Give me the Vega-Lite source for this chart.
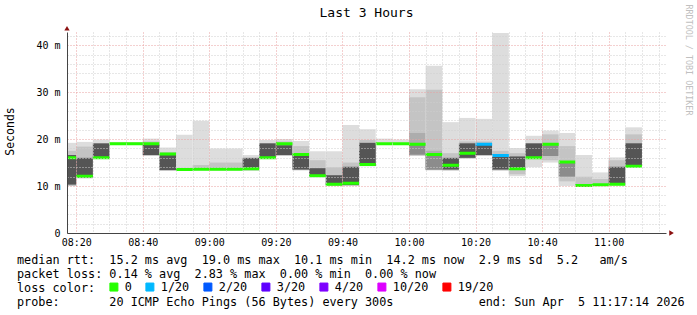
{
  "$schema": "https://vega.github.io/schema/vega-lite/v6.json",
  "width": 599,
  "height": 201,
  "autosize": {"type": "none"},
  "padding": {"left": 67, "top": 32, "right": 31, "bottom": 82},
  "background": "white",
  "config": {"font": "DejaVu Sans Mono", "view": {"stroke": null}},
  "title": {"text": "Last 3 Hours", "fontSize": 13, "fontWeight": "normal", "color": "black", "anchor": "middle", "baseline": "alphabetic", "offset": -25.5},
  "datasets": {
    "smoke": [
      {"s":15,"e":20,"k":1,"lo":10.0,"hi":19.2},{"s":15,"e":20,"k":2,"lo":10.0,"hi":17.5},{"s":15,"e":20,"k":5,"lo":10.3,"hi":16.6},
      {"s":20,"e":25,"k":1,"lo":11.6,"hi":19.4},{"s":20,"e":25,"k":2,"lo":11.7,"hi":18.4},{"s":20,"e":25,"k":5,"lo":11.8,"hi":16.0},
      {"s":25,"e":30,"k":1,"lo":15.8,"hi":19.9},{"s":25,"e":30,"k":5,"lo":15.9,"hi":19.1},
      {"s":30,"e":35,"k":1,"lo":18.9,"hi":19.4},
      {"s":35,"e":40,"k":1,"lo":18.9,"hi":19.4},
      {"s":40,"e":45,"k":1,"lo":16.4,"hi":20.1},{"s":40,"e":45,"k":2,"lo":16.5,"hi":19.5},{"s":40,"e":45,"k":5,"lo":16.6,"hi":18.9},
      {"s":45,"e":50,"k":1,"lo":13.2,"hi":18.2},{"s":45,"e":50,"k":2,"lo":13.3,"hi":17.2},{"s":45,"e":50,"k":5,"lo":13.4,"hi":16.6},
      {"s":50,"e":55,"k":1,"lo":13.3,"hi":20.9},
      {"s":55,"e":60,"k":1,"lo":13.3,"hi":23.9},{"s":55,"e":60,"k":2,"lo":13.4,"hi":14.5},
      {"s":60,"e":65,"k":1,"lo":13.3,"hi":18.0},{"s":60,"e":65,"k":2,"lo":13.4,"hi":15.0},
      {"s":65,"e":70,"k":1,"lo":13.3,"hi":18.0},{"s":65,"e":70,"k":2,"lo":13.4,"hi":15.0},
      {"s":70,"e":75,"k":1,"lo":13.2,"hi":16.6},{"s":70,"e":75,"k":5,"lo":13.6,"hi":16.0},
      {"s":75,"e":80,"k":1,"lo":15.8,"hi":19.8},{"s":75,"e":80,"k":5,"lo":15.9,"hi":19.1},
      {"s":80,"e":85,"k":1,"lo":16.4,"hi":20.0},{"s":80,"e":85,"k":2,"lo":16.5,"hi":19.5},{"s":80,"e":85,"k":5,"lo":16.6,"hi":18.7},
      {"s":85,"e":90,"k":1,"lo":13.3,"hi":19.6},{"s":85,"e":90,"k":2,"lo":13.4,"hi":18.5},{"s":85,"e":90,"k":5,"lo":13.5,"hi":16.5},
      {"s":90,"e":95,"k":1,"lo":12.0,"hi":17.4},{"s":90,"e":95,"k":2,"lo":12.1,"hi":15.5},{"s":90,"e":95,"k":5,"lo":12.2,"hi":13.8},
      {"s":95,"e":100,"k":1,"lo":10.0,"hi":17.4},{"s":95,"e":100,"k":2,"lo":10.1,"hi":14.0},{"s":95,"e":100,"k":5,"lo":10.2,"hi":12.3},
      {"s":100,"e":105,"k":1,"lo":10.0,"hi":23.0},{"s":100,"e":105,"k":2,"lo":10.1,"hi":15.0},{"s":100,"e":105,"k":5,"lo":10.2,"hi":14.1},
      {"s":105,"e":110,"k":1,"lo":14.2,"hi":22.1},{"s":105,"e":110,"k":2,"lo":14.3,"hi":19.8},{"s":105,"e":110,"k":5,"lo":14.3,"hi":19.2},
      {"s":110,"e":115,"k":1,"lo":18.9,"hi":20.1},
      {"s":115,"e":120,"k":1,"lo":18.9,"hi":19.9},
      {"s":120,"e":125,"k":1,"lo":16.4,"hi":30.6},{"s":120,"e":125,"k":2,"lo":16.5,"hi":28.9},{"s":120,"e":125,"k":3,"lo":16.6,"hi":21.3},{"s":120,"e":125,"k":4,"lo":16.7,"hi":18.8},
      {"s":125,"e":130,"k":1,"lo":13.3,"hi":35.6},{"s":125,"e":130,"k":2,"lo":13.4,"hi":30.5},{"s":125,"e":130,"k":3,"lo":13.5,"hi":17.5},{"s":125,"e":130,"k":4,"lo":13.5,"hi":16.7},
      {"s":130,"e":135,"k":1,"lo":13.2,"hi":23.6},{"s":130,"e":135,"k":2,"lo":13.4,"hi":17.0},{"s":130,"e":135,"k":5,"lo":13.5,"hi":16.0},
      {"s":135,"e":140,"k":1,"lo":15.8,"hi":24.5},{"s":135,"e":140,"k":2,"lo":15.9,"hi":19.5},{"s":135,"e":140,"k":5,"lo":16.0,"hi":19.1},
      {"s":140,"e":145,"k":1,"lo":16.4,"hi":24.3},{"s":140,"e":145,"k":2,"lo":16.5,"hi":19.5},{"s":140,"e":145,"k":5,"lo":16.6,"hi":18.8},
      {"s":145,"e":150,"k":1,"lo":13.2,"hi":42.6},{"s":145,"e":150,"k":2,"lo":13.4,"hi":17.5},{"s":145,"e":150,"k":5,"lo":13.5,"hi":16.3},
      {"s":150,"e":155,"k":1,"lo":12.1,"hi":18.1},{"s":150,"e":155,"k":2,"lo":12.5,"hi":17.0},{"s":150,"e":155,"k":5,"lo":13.5,"hi":16.3},
      {"s":155,"e":160,"k":1,"lo":14.0,"hi":20.7},{"s":155,"e":160,"k":5,"lo":16.2,"hi":19.1},
      {"s":160,"e":165,"k":1,"lo":15.0,"hi":21.8},{"s":160,"e":165,"k":2,"lo":15.5,"hi":21.0},{"s":160,"e":165,"k":4,"lo":16.4,"hi":18.7},
      {"s":165,"e":170,"k":1,"lo":10.0,"hi":21.3},{"s":165,"e":170,"k":2,"lo":11.0,"hi":18.5},{"s":165,"e":170,"k":4,"lo":12.0,"hi":15.0},
      {"s":170,"e":175,"k":1,"lo":10.0,"hi":16.6},{"s":170,"e":175,"k":2,"lo":10.1,"hi":12.0},
      {"s":175,"e":180,"k":1,"lo":10.0,"hi":12.9},{"s":175,"e":180,"k":2,"lo":10.1,"hi":11.5},
      {"s":180,"e":185,"k":1,"lo":10.1,"hi":16.1},{"s":180,"e":185,"k":2,"lo":10.2,"hi":15.5},{"s":180,"e":185,"k":5,"lo":10.4,"hi":14.1},
      {"s":185,"e":190,"k":1,"lo":14.2,"hi":22.5},{"s":185,"e":190,"k":2,"lo":14.3,"hi":21.0},{"s":185,"e":190,"k":5,"lo":14.3,"hi":19.1}
    ],
    "median": [
      {"s":15,"e":20,"m":16.0,"loss":"0"},
      {"s":20,"e":25,"m":12.1,"loss":"0"},
      {"s":25,"e":30,"m":16.0,"loss":"0"},
      {"s":30,"e":35,"m":19.0,"loss":"0"},
      {"s":35,"e":40,"m":19.0,"loss":"0"},
      {"s":40,"e":45,"m":19.0,"loss":"0"},
      {"s":45,"e":50,"m":16.8,"loss":"0"},
      {"s":50,"e":55,"m":13.5,"loss":"0"},
      {"s":55,"e":60,"m":13.6,"loss":"0"},
      {"s":60,"e":65,"m":13.6,"loss":"0"},
      {"s":65,"e":70,"m":13.6,"loss":"0"},
      {"s":70,"e":75,"m":13.7,"loss":"0"},
      {"s":75,"e":80,"m":16.0,"loss":"0"},
      {"s":80,"e":85,"m":19.0,"loss":"0"},
      {"s":85,"e":90,"m":16.7,"loss":"0"},
      {"s":90,"e":95,"m":12.2,"loss":"0"},
      {"s":95,"e":100,"m":10.4,"loss":"0"},
      {"s":100,"e":105,"m":10.6,"loss":"0"},
      {"s":105,"e":110,"m":14.6,"loss":"0"},
      {"s":110,"e":115,"m":19.0,"loss":"0"},
      {"s":115,"e":120,"m":19.0,"loss":"0"},
      {"s":120,"e":125,"m":18.9,"loss":"0"},
      {"s":125,"e":130,"m":16.7,"loss":"0"},
      {"s":130,"e":135,"m":14.4,"loss":"0"},
      {"s":135,"e":140,"m":17.0,"loss":"0"},
      {"s":140,"e":145,"m":18.9,"loss":"1/20"},
      {"s":145,"e":150,"m":16.5,"loss":"1/20"},
      {"s":150,"e":155,"m":13.7,"loss":"0"},
      {"s":155,"e":160,"m":16.0,"loss":"0"},
      {"s":160,"e":165,"m":18.9,"loss":"0"},
      {"s":165,"e":170,"m":15.1,"loss":"0"},
      {"s":170,"e":175,"m":10.1,"loss":"0"},
      {"s":175,"e":180,"m":10.3,"loss":"0"},
      {"s":180,"e":185,"m":10.4,"loss":"0"},
      {"s":185,"e":190,"m":14.2,"loss":"0"}
    ],
    "arrows": [
      {"s": 17.233, "e": 17.233, "v": 43.6, "dir": "up"},
      {"s": 198.9, "e": 198.9, "v": 0, "dir": "right"}
    ]
  },
  "encoding": {
    "x": {
      "field": "s", "type": "quantitative",
      "scale": {"domain": [17.233, 197.233], "nice": false, "zero": false},
      "axis": {
        "values": [20, 25, 30, 35, 40, 45, 50, 55, 60, 65, 70, 75, 80, 85, 90, 95, 100, 105, 110, 115, 120, 125, 130, 135, 140, 145, 150, 155, 160, 165, 170, 175, 180, 185, 190, 195],
        "labelExpr": "datum.value % 20 === 0 ? timeFormat(datetime(2026, 3, 5, 8, datum.value), '%H:%M') : ''",
        "gridColor": {"condition": {"test": "datum.value % 20 === 0", "value": "#e8a0a0"}, "value": "#cfcfcf"},
        "gridDash": [1, 2],
        "ticks": false,
        "labelPadding": 4,
        "labelFontSize": 10,
        "labelColor": "black",
        "labelOverlap": false,
        "labelFlush": false,
        "domainColor": "#444444",
        "zindex": 1,
        "title": ["median rtt:\u00a0\u00a015.2 ms avg\u00a0\u00a019.0 ms max\u00a0\u00a010.1 ms min\u00a0\u00a014.2 ms now\u00a0\u00a02.9 ms sd\u00a0\u00a05.2\u00a0\u00a0\u00a0am/s", "packet loss: 0.14 % avg\u00a0\u00a02.83 % max\u00a0\u00a00.00 % min\u00a0\u00a00.00 % now", "loss color:", "probe:\u00a0\u00a0\u00a0\u00a0\u00a0\u00a0\u00a020 ICMP Echo Pings (56 Bytes) every 300s\u00a0\u00a0\u00a0\u00a0\u00a0\u00a0\u00a0\u00a0\u00a0\u00a0\u00a0\u00a0end: Sun Apr\u00a0\u00a05 11:17:14 2026"],
        "titleAnchor": "start",
        "titleAlign": "left",
        "titleBaseline": "alphabetic",
        "titleX": -50.5,
        "titleY": 30,
        "titleFontSize": 11.8,
        "titleFontWeight": "normal",
        "titleColor": "black",
        "titleLineHeight": 14
      }
    },
    "x2": {"field": "e"}
  },
  "layer": [
    {
      "data": {"name": "smoke"},
      "mark": {"type": "rect", "clip": true},
      "encoding": {
        "y": {
          "field": "lo", "type": "quantitative",
          "scale": {"domain": [0, 42.8], "nice": false},
          "axis": {
            "orient": "left",
            "values": [0, 2, 4, 6, 8, 10, 12, 14, 16, 18, 20, 22, 24, 26, 28, 30, 32, 34, 36, 38, 40, 42],
            "labelExpr": "datum.value % 10 === 0 ? (datum.value === 0 ? '0' : datum.value + ' m') : ''",
            "gridColor": {"condition": {"test": "datum.value % 10 === 0", "value": "#e8a0a0"}, "value": "#cfcfcf"},
            "gridDash": [1, 2],
            "ticks": false,
            "labelPadding": 7,
            "labelFontSize": 10,
            "labelColor": "black",
            "labelOverlap": false,
            "domainColor": "#444444",
            "zindex": 1,
            "title": "Seconds",
            "titleX": -57,
            "titleY": 99,
            "titleAngle": 270,
            "titleAlign": "center",
            "titleBaseline": "middle",
            "titleFontSize": 11.5,
            "titleFontWeight": "normal",
            "titleColor": "black"
          }
        },
        "y2": {"field": "hi"},
        "color": {
          "field": "k", "type": "ordinal",
          "scale": {"domain": [1, 2, 3, 4, 5], "range": ["#dddddd", "#c4c4c4", "#adadad", "#8c8c8c", "#555555"]},
          "legend": null
        }
      }
    },
    {
      "data": {"name": "median"},
      "mark": {"type": "rect", "clip": true, "strokeWidth": 3},
      "encoding": {
        "y": {
          "field": "m", "type": "quantitative",
          "scale": {"domain": [0, 42.8], "nice": false},
          "axis": {
            "orient": "right",
            "labels": false,
            "ticks": false,
            "domain": false,
            "grid": false,
            "title": "RRDTOOL / TOBI OETIKER",
            "titleAngle": 90,
            "titleX": 22,
            "titleY": 27.5,
            "titleAlign": "center",
            "titleBaseline": "middle",
            "titleFontSize": 8.4,
            "titleFontWeight": "normal",
            "titleColor": "#c0c0c0"
          }
        },
        "y2": {"field": "m"},
        "fill": {
          "field": "loss", "type": "nominal",
          "scale": {"domain": ["0", "1/20", "2/20", "3/20", "4/20", "10/20", "19/20"], "range": ["#26ff00", "#00b8ff", "#0059ff", "#5e00ff", "#7e00ff", "#dd00ff", "#ff0000"]},
          "legend": {
            "orient": "none",
            "legendX": 41,
            "legendY": 249,
            "direction": "horizontal",
            "title": null,
            "symbolType": "square",
            "symbolSize": 64,
            "symbolStrokeColor": "black",
            "symbolStrokeWidth": 1,
            "symbolOpacity": 1,
            "labelFontSize": 11.8,
            "labelColor": "black",
            "labelOffset": 5,
            "columnPadding": 11,
            "padding": 0,
            "encode": {"symbols": {"update": {"stroke": {"value": "black"}, "strokeWidth": {"value": 1}}}}
          }
        },
        "stroke": {
          "field": "loss", "type": "nominal",
          "scale": {"domain": ["0", "1/20", "2/20", "3/20", "4/20", "10/20", "19/20"], "range": ["#26ff00", "#00b8ff", "#0059ff", "#5e00ff", "#7e00ff", "#dd00ff", "#ff0000"]},
          "legend": null
        }
      }
    },
    {
      "data": {"name": "arrows"},
      "mark": {"type": "point", "filled": true, "size": 28, "color": "#8b1010", "opacity": 1},
      "encoding": {
        "y": {
          "field": "v", "type": "quantitative",
          "scale": {"domain": [0, 42.8], "nice": false},
          "axis": null
        },
        "shape": {
          "field": "dir", "type": "nominal",
          "scale": {"domain": ["up", "right"], "range": ["triangle-up", "triangle-right"]},
          "legend": null
        }
      }
    }
  ],
  "resolve": {"axis": {"y": "independent"}}
}
